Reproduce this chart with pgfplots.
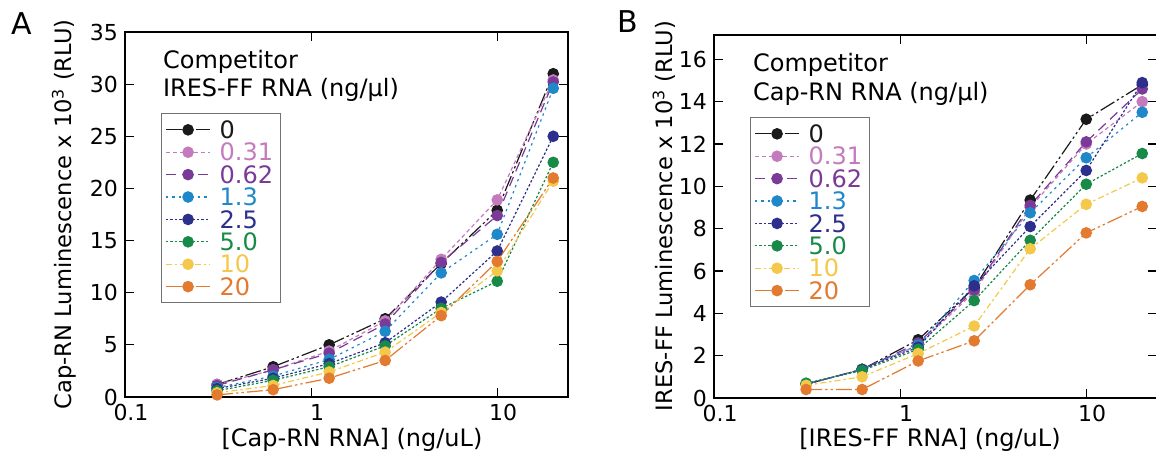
\documentclass[border=0pt]{standalone}
\usepackage{pgfplots}
\pgfplotsset{compat=1.18}
\usepackage{fontspec}
\setmainfont{DejaVu Sans}
\definecolor{cA}{HTML}{1A1A1A}
\definecolor{cB}{HTML}{C47BBE}
\definecolor{cC}{HTML}{7A3A98}
\definecolor{cD}{HTML}{1E88C8}
\definecolor{cE}{HTML}{2C2F8C}
\definecolor{cF}{HTML}{178A48}
\definecolor{cG}{HTML}{F4C84A}
\definecolor{cH}{HTML}{E27A30}
\pgfplotsset{
  legend image code/.code={\draw[mark repeat=2,mark phase=2,#1] plot coordinates {(0pt,0pt) (11pt,0pt) (22pt,0pt)};},
  s0/.style={color=cA, line width=0.6pt, mark=*, mark size=2.6pt, mark options={solid, fill=cA, draw=cA}, dash pattern=on 8pt off 1.5pt on 1.2pt off 1.5pt on 1.2pt off 1.5pt},
  s1/.style={color=cB, line width=0.6pt, mark=*, mark size=2.6pt, mark options={solid, fill=cB, draw=cB}, dash pattern=on 2pt off 1.5pt},
  s2/.style={color=cC, line width=0.6pt, mark=*, mark size=2.6pt, mark options={solid, fill=cC, draw=cC}, dash pattern=on 5pt off 3pt},
  s3/.style={color=cD, line width=0.6pt, mark=*, mark size=2.6pt, mark options={solid, fill=cD, draw=cD}, dash pattern=on 1.2pt off 2pt},
  s4/.style={color=cE, line width=0.6pt, mark=*, mark size=2.6pt, mark options={solid, fill=cE, draw=cE}, dash pattern=on 1.2pt off 1pt},
  s5/.style={color=cF, line width=0.6pt, mark=*, mark size=2.6pt, mark options={solid, fill=cF, draw=cF}, dash pattern=on 1.2pt off 1pt},
  s6/.style={color=cG, line width=0.6pt, mark=*, mark size=2.6pt, mark options={solid, fill=cG, draw=cG}, dash pattern=on 3pt off 1.5pt on 1.2pt off 1.5pt},
  s7/.style={color=cH, line width=0.6pt, mark=*, mark size=2.6pt, mark options={solid, fill=cH, draw=cH}, dash pattern=on 8pt off 1.5pt on 1.2pt off 1.5pt on 1.2pt off 1.5pt},
}
\begin{document}
\begin{tikzpicture}[x=1pt,y=1pt]
\path[use as bounding box] (0,0) rectangle (578,232);
% ---------------- Panel A ----------------
\begin{axis}[xmode=log, scale only axis, width=221.5pt, height=182.5pt,
    xmin=0.1, xmax=24, xtick={0.1,1,10}, xticklabels={0.1,1,10},
    xminorticks=false, yminorticks=false,
    tick align=inside, major tick length=4.5pt,
    tick style={black, line width=0.6pt},
    axis line style={line width=0.9pt},
    ticklabel style={font=\fontsize{11}{13}\selectfont},
    xticklabel style={xshift=3pt},
    /pgf/number format/assume math mode=true,
    legend cell align=left,
    legend style={anchor=north west, draw=black!55, line width=0.6pt, fill=white,
      font=\fontsize{12}{12}\selectfont, inner xsep=2pt, inner ysep=2.5pt, row sep=0pt,
      nodes={inner xsep=1.5pt, inner ysep=1.3pt, text height=8.6pt, text depth=0pt},
      /tikz/every odd column/.append style={column sep=3pt},
      at={(axis description cs:0.081,0.778)}},
    anchor=south west, at={(62.5pt,33.5pt)},
    ymin=0, ymax=35, ytick={0,5,...,35}]
\addplot[s0] coordinates {(0.3125,1.2) (0.625,2.9) (1.25,5.0) (2.5,7.5) (5,12.8) (10,17.9) (20,31.0)};
\addlegendentry{\textcolor{cA}{0}}
\addplot[s1] coordinates {(0.3125,1.2) (0.625,2.6) (1.25,4.4) (2.5,7.3) (5,13.2) (10,18.9) (20,30.4)};
\addlegendentry{\textcolor{cB}{0.31}}
\addplot[s2] coordinates {(0.3125,1.1) (0.625,2.6) (1.25,4.2) (2.5,7.0) (5,12.9) (10,17.4) (20,30.2)};
\addlegendentry{\textcolor{cC}{0.62}}
\addplot[s3] coordinates {(0.3125,0.9) (0.625,2.0) (1.25,3.6) (2.5,6.3) (5,11.9) (10,15.6) (20,29.6)};
\addlegendentry{\textcolor{cD}{1.3}}
\addplot[s4] coordinates {(0.3125,0.8) (0.625,1.8) (1.25,3.2) (2.5,5.2) (5,9.1) (10,14.0) (20,25.0)};
\addlegendentry{\textcolor{cE}{2.5}}
\addplot[s5] coordinates {(0.3125,0.6) (0.625,1.6) (1.25,2.9) (2.5,4.9) (5,8.5) (10,11.1) (20,22.5)};
\addlegendentry{\textcolor{cF}{5.0}}
\addplot[s6] coordinates {(0.3125,0.4) (0.625,1.1) (1.25,2.4) (2.5,4.3) (5,8.1) (10,12.1) (20,20.7)};
\addlegendentry{\textcolor{cG}{10}}
\addplot[s7] coordinates {(0.3125,0.2) (0.625,0.7) (1.25,1.8) (2.5,3.5) (5,7.8) (10,13.0) (20,21.0)};
\addlegendentry{\textcolor{cH}{20}}
\end{axis}
% ---------------- Panel B ----------------
\begin{axis}[xmode=log, scale only axis, width=221.5pt, height=181.5pt,
    xmin=0.1, xmax=24, xtick={0.1,1,10}, xticklabels={0.1,1,10},
    xminorticks=false, yminorticks=false,
    tick align=inside, major tick length=4.5pt,
    tick style={black, line width=0.6pt},
    axis line style={line width=0.9pt},
    ticklabel style={font=\fontsize{11}{13}\selectfont},
    xticklabel style={xshift=3pt},
    /pgf/number format/assume math mode=true,
    legend cell align=left,
    legend style={anchor=north west, draw=black!55, line width=0.6pt, fill=white,
      font=\fontsize{12}{12}\selectfont, inner xsep=2pt, inner ysep=2.5pt, row sep=0pt,
      nodes={inner xsep=1.5pt, inner ysep=1.3pt, text height=8.6pt, text depth=0pt},
      /tikz/every odd column/.append style={column sep=3pt},
      at={(axis description cs:0.081,0.774)}},
    anchor=south west, at={(357pt,33pt)},
    ymin=0, ymax=17.15, ytick={0,2,...,16}]
\addplot[s0] coordinates {(0.3125,0.65) (0.625,1.35) (1.25,2.75) (2.5,5.2) (5,9.35) (10,13.17) (20,14.8)};
\addlegendentry{\textcolor{cA}{0}}
\addplot[s1] coordinates {(0.3125,0.65) (0.625,1.35) (1.25,2.5) (2.5,5.0) (5,9.0) (10,12.0) (20,14.0)};
\addlegendentry{\textcolor{cB}{0.31}}
\addplot[s2] coordinates {(0.3125,0.65) (0.625,1.35) (1.25,2.6) (2.5,5.1) (5,9.1) (10,12.1) (20,14.6)};
\addlegendentry{\textcolor{cC}{0.62}}
\addplot[s3] coordinates {(0.3125,0.65) (0.625,1.35) (1.25,2.5) (2.5,5.55) (5,8.75) (10,11.35) (20,13.5)};
\addlegendentry{\textcolor{cD}{1.3}}
\addplot[s4] coordinates {(0.3125,0.65) (0.625,1.35) (1.25,2.4) (2.5,5.3) (5,8.1) (10,10.75) (20,14.9)};
\addlegendentry{\textcolor{cE}{2.5}}
\addplot[s5] coordinates {(0.3125,0.7) (0.625,1.3) (1.25,2.3) (2.5,4.6) (5,7.45) (10,10.1) (20,11.55)};
\addlegendentry{\textcolor{cF}{5.0}}
\addplot[s6] coordinates {(0.3125,0.6) (0.625,1.0) (1.25,2.1) (2.5,3.4) (5,7.05) (10,9.15) (20,10.4)};
\addlegendentry{\textcolor{cG}{10}}
\addplot[s7] coordinates {(0.3125,0.4) (0.625,0.4) (1.25,1.75) (2.5,2.7) (5,5.35) (10,7.8) (20,9.05)};
\addlegendentry{\textcolor{cH}{20}}
\end{axis}
% ---------------- Labels ----------------
\node[font=\fontsize{15}{15}\selectfont] at (11,220) {A};
\node[font=\fontsize{15}{15}\selectfont] at (314,221) {B};
\node[anchor=base west, font=\fontsize{12}{12}\selectfont] at (78,197.75) {Competitor};
\node[anchor=base west, font=\fontsize{12}{12}\selectfont] at (78,183.75) {IRES-FF RNA (ng/μl)};
\node[anchor=base west, font=\fontsize{12}{12}\selectfont] at (373,196.25) {Competitor};
\node[anchor=base west, font=\fontsize{12}{12}\selectfont] at (373,181.75) {Cap-RN RNA (ng/μl)};
\node[rotate=90, font=\fontsize{11.3}{12}\selectfont] at (32,124.75) {Cap-RN Luminescence x 10\textsuperscript{3} (RLU)};
\node[rotate=90, font=\fontsize{11.3}{12}\selectfont] at (332,124) {IRES-FF Luminescence x 10\textsuperscript{3} (RLU)};
\node[font=\fontsize{12}{12}\selectfont] at (176,12) {[Cap-RN RNA] (ng/uL)};
\node[font=\fontsize{12}{12}\selectfont] at (465,12) {[IRES-FF RNA] (ng/uL)};
\end{tikzpicture}
\end{document}
